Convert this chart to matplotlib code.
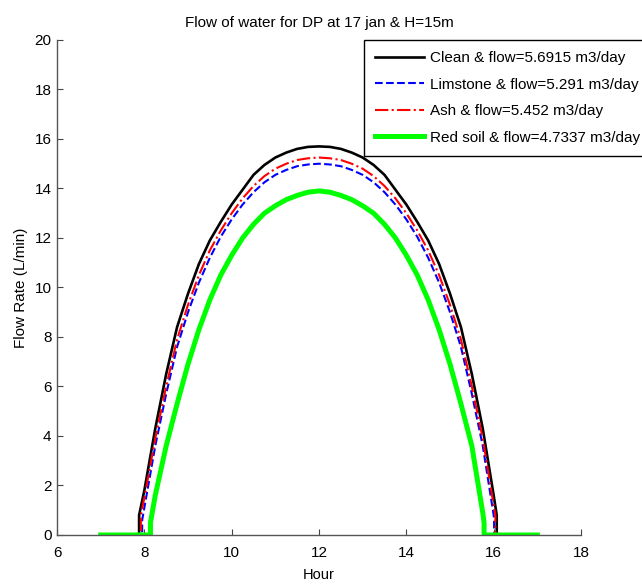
import matplotlib
matplotlib.use("Agg")
import matplotlib.pyplot as plt

plt.rcParams['font.family'] = ['Liberation Sans', 'DejaVu Sans']

# ---- data ----
clean_hour = [7.0, 7.88, 7.88, 8.0, 8.25, 8.5, 8.75, 9.0, 9.25, 9.5, 9.75, 10.0, 10.25, 10.5, 10.75,
              11.0, 11.25, 11.5, 11.75, 12.0, 12.25, 12.5, 12.75, 13.0, 13.25, 13.5, 13.75, 14.0,
              14.25, 14.5, 14.75, 15.0, 15.25, 15.5, 15.75, 16.0, 16.07, 16.07, 17.0]
clean_flow = [0.0, 0.0, 0.8, 1.8, 4.3, 6.5, 8.4, 9.75, 10.95, 11.9, 12.65, 13.35, 13.95, 14.55, 14.95,
              15.25, 15.45, 15.6, 15.68, 15.7, 15.68, 15.6, 15.45, 15.25, 14.95, 14.55, 13.95, 13.35,
              12.65, 11.9, 10.95, 9.75, 8.4, 6.5, 4.3, 1.6, 0.8, 0.0, 0.0]

lime_hour = [7.0, 7.95, 7.95, 8.0, 8.25, 8.5, 8.75, 9.0, 9.25, 9.5, 9.75, 10.0, 10.25, 10.5, 10.75,
             11.0, 11.25, 11.5, 11.75, 12.0, 12.25, 12.5, 12.75, 13.0, 13.25, 13.5, 13.75, 14.0,
             14.25, 14.5, 14.75, 15.0, 15.25, 15.5, 15.75, 16.0, 16.01, 16.01, 17.0]
lime_flow = [0.0, 0.0, 0.6, 1.1, 3.6, 5.7, 7.6, 9.0, 10.2, 11.2, 12.05, 12.75, 13.35, 13.85, 14.25,
             14.55, 14.75, 14.9, 14.97, 15.0, 14.97, 14.9, 14.75, 14.55, 14.25, 13.85, 13.35, 12.75,
             12.05, 11.2, 10.2, 9.0, 7.6, 5.7, 3.6, 0.8, 0.6, 0.0, 0.0]

ash_hour = [7.0, 7.92, 7.92, 8.0, 8.25, 8.5, 8.75, 9.0, 9.25, 9.5, 9.75, 10.0, 10.25, 10.5, 10.75,
            11.0, 11.25, 11.5, 11.75, 12.0, 12.25, 12.5, 12.75, 13.0, 13.25, 13.5, 13.75, 14.0,
            14.25, 14.5, 14.75, 15.0, 15.25, 15.5, 15.75, 16.0, 16.04, 16.04, 17.0]
ash_flow = [0.0, 0.0, 0.8, 1.5, 3.9, 6.0, 7.9, 9.3, 10.5, 11.5, 12.3, 13.0, 13.6, 14.1, 14.5,
            14.8, 15.0, 15.15, 15.22, 15.25, 15.22, 15.15, 15.0, 14.8, 14.5, 14.1, 13.6, 13.0,
            12.3, 11.5, 10.5, 9.3, 7.9, 6.0, 3.9, 1.2, 0.8, 0.0, 0.0]

red_hour = [7.0, 8.14, 8.14, 8.25, 8.5, 8.75, 9.0, 9.25, 9.5, 9.75, 10.0, 10.25, 10.5, 10.75,
            11.0, 11.25, 11.5, 11.75, 12.0, 12.25, 12.5, 12.75, 13.0, 13.25, 13.5, 13.75, 14.0,
            14.25, 14.5, 14.75, 15.0, 15.25, 15.5, 15.75, 15.78, 15.78, 17.0]
red_flow = [0.0, 0.0, 0.5, 1.6, 3.6, 5.3, 6.9, 8.3, 9.5, 10.5, 11.3, 12.0, 12.55, 13.0,
            13.3, 13.55, 13.72, 13.85, 13.9, 13.85, 13.72, 13.55, 13.3, 13.0, 12.55, 12.0, 11.3,
            10.5, 9.5, 8.3, 6.9, 5.3, 3.6, 0.9, 0.5, 0.0, 0.0]

labels = ['Clean & flow=5.6915 m3/day', 'Limstone & flow=5.291 m3/day',
          'Ash & flow=5.452 m3/day', 'Red soil & flow=4.7337 m3/day']
title = 'Flow of water for DP at 17 jan & H=15m'
xticks = [6, 8, 10, 12, 14, 16, 18]
yticks = [0, 2, 4, 6, 8, 10, 12, 14, 16, 18, 20]

fig = plt.figure(figsize=(6.42, 5.87), dpi=100)
ax = fig.add_axes([0.0888, 0.0886, 0.8162, 0.8433])

ax.plot(clean_hour, clean_flow, color='black', lw=1.9, ls='-', label=labels[0])
ax.plot(lime_hour, lime_flow, color='#0000ff', lw=1.5, ls='--', label=labels[1])
ax.plot(ash_hour, ash_flow, color='#ff0000', lw=1.5, ls='-.', label=labels[2])
ax.plot(red_hour, red_flow, color='#00ff00', lw=3.6, ls='-', label=labels[3])

ax.set_xlim(6, 18)
ax.set_ylim(0, 20)
ax.set_xticks(xticks)
ax.set_yticks(yticks)
ax.tick_params(direction='in', length=4, width=0.8, color='#444444', labelsize=11)
ax.tick_params(axis='x', pad=8)
ax.tick_params(axis='y', pad=4)
for s in ['top', 'right']:
    ax.spines[s].set_visible(False)
for s in ['left', 'bottom']:
    ax.spines[s].set_color('#555555')
    ax.spines[s].set_linewidth(1.0)

ax.set_title(title, fontsize=11, pad=9)
ax.set_xlabel('Hour', fontsize=10.5, labelpad=6)
ax.set_ylabel('Flow Rate (L/min)', fontsize=11, labelpad=5)

leg = ax.legend(loc='upper left', bbox_to_anchor=(0.586, 1.0), fontsize=11,
                frameon=True, fancybox=False, edgecolor='black', framealpha=1,
                handlelength=3.2, handletextpad=0.4, borderpad=0.72, labelspacing=0.82,
                borderaxespad=0)
leg.get_frame().set_linewidth(1.0)

fig.savefig('out.png', dpi=100)
